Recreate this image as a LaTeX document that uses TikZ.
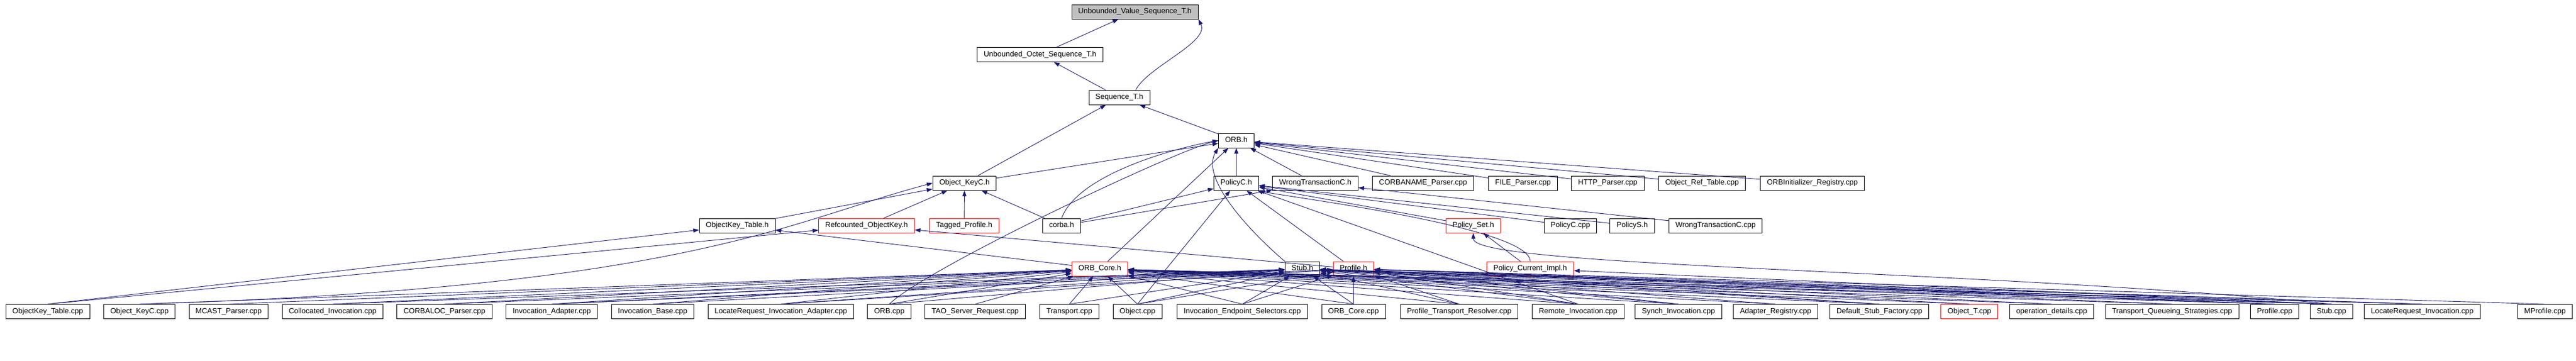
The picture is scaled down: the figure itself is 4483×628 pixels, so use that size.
\documentclass[tikz,border=0pt]{standalone}
\usepackage{fontspec}
\newfontfamily\dfont{Liberation Sans}
\usetikzlibrary{arrows.meta}
\definecolor{edgeblue}{HTML}{191970}
\definecolor{rootgray}{HTML}{BFBFBF}
\begin{document}
\begin{tikzpicture}[x=1pt,y=-1pt,
  box/.style={draw=black, line width=0.9pt, fill=white, minimum height=25pt, inner xsep=11.5pt, inner ysep=0pt,
    font=\dfont\fontsize{13}{15}\selectfont, text height=9.5pt, text depth=2.7pt},
  redbox/.style={box, draw=red},
  rootbox/.style={box, fill=rootgray},
  edge/.style={draw=edgeblue, line width=0.9pt, -{Triangle[length=10pt,width=7pt]}}]
\useasboundingbox (0,0) rectangle (4483,628);
% rows
\def\ra{20.5}\def\rb{95}\def\rc{169.5}\def\rd{244.5}\def\re{318.5}\def\rf{392.5}\def\rg{467.5}\def\rh{542}
\node[rootbox] (val) at (1975,\ra) {Unbounded\_Value\_Sequence\_T.h};
\node[box] (oct) at (1810,\rb) {Unbounded\_Octet\_Sequence\_T.h};
\node[box] (seq) at (1948,\rc) {Sequence\_T.h};
\node[box] (orbh) at (2151.5,\rd) {ORB.h};
% row 4
\node[box] (okc) at (1678.5,\re) {Object\_KeyC.h};
\node[box] (polc) at (2151.5,\re) {PolicyC.h};
\node[box] (wtc) at (2289,\re) {WrongTransactionC.h};
\node[box] (cnp) at (2476.5,\re) {CORBANAME\_Parser.cpp};
\node[box] (filep) at (2650.5,\re) {FILE\_Parser.cpp};
\node[box] (httpp) at (2798,\re) {HTTP\_Parser.cpp};
\node[box] (ort) at (2962,\re) {Object\_Ref\_Table.cpp};
\node[box] (orbi) at (3154,\re) {ORBInitializer\_Registry.cpp};
% row 5
\node[box] (okt) at (1283,\rf) {ObjectKey\_Table.h};
\node[redbox] (rok) at (1508,\rf) {Refcounted\_ObjectKey.h};
\node[redbox] (tagp) at (1678,\rf) {Tagged\_Profile.h};
\node[box] (corba) at (1847.5,\rf) {corba.h};
\node[redbox] (pset) at (2564,\rf) {Policy\_Set.h};
\node[box] (pccpp) at (2733,\rf) {PolicyC.cpp};
\node[box] (pols) at (2840.5,\rf) {PolicyS.h};
\node[box] (wtccpp) at (2985.5,\rf) {WrongTransactionC.cpp};
% row 6
\node[redbox] (orbcore) at (1914,\rg) {ORB\_Core.h};
\node[box] (stubh) at (2266.5,\rg) {Stub.h};
\node[redbox] (profh) at (2355.5,\rg) {Profile.h};
\node[redbox] (pci) at (2663,\rg) {Policy\_Current\_Impl.h};
% row 7
\node[box] (oktcpp) at (83.1,\rh) {ObjectKey\_Table.cpp};
\node[box] (okccpp) at (242.7,\rh) {Object\_KeyC.cpp};
\node[box] (mcast) at (397.9,\rh) {MCAST\_Parser.cpp};
\node[box] (colloc) at (578.8,\rh) {Collocated\_Invocation.cpp};
\node[box] (corbaloc) at (773.5,\rh) {CORBALOC\_Parser.cpp};
\node[box] (invad) at (960.3,\rh) {Invocation\_Adapter.cpp};
\node[box] (invbase) at (1135.8,\rh) {Invocation\_Base.cpp};
\node[box] (lria) at (1358.8,\rh) {LocateRequest\_Invocation\_Adapter.cpp};
\node[box] (orbcpp) at (1547.7,\rh) {ORB.cpp};
\node[box] (tsr) at (1697.1,\rh) {TAO\_Server\_Request.cpp};
\node[box] (transp) at (1861,\rh) {Transport.cpp};
\node[box] (objcpp) at (1979.5,\rh) {Object.cpp};
\node[box] (ies) at (2162,\rh) {Invocation\_Endpoint\_Selectors.cpp};
\node[box] (orbcorecpp) at (2355.5,\rh) {ORB\_Core.cpp};
\node[box] (ptr) at (2539.5,\rh) {Profile\_Transport\_Resolver.cpp};
\node[box] (remote) at (2746.3,\rh) {Remote\_Invocation.cpp};
\node[box] (synch) at (2921,\rh) {Synch\_Invocation.cpp};
\node[box] (adreg) at (3090,\rh) {Adapter\_Registry.cpp};
\node[box] (dsf) at (3270.7,\rh) {Default\_Stub\_Factory.cpp};
\node[redbox] (objt) at (3427.3,\rh) {Object\_T.cpp};
\node[box] (opdet) at (3570.5,\rh) {operation\_details.cpp};
\node[box] (tqs) at (3780,\rh) {Transport\_Queueing\_Strategies.cpp};
\node[box] (profcpp) at (3958.5,\rh) {Profile.cpp};
\node[box] (stubcpp) at (4057.5,\rh) {Stub.cpp};
\node[box] (lri) at (4215.3,\rh) {LocateRequest\_Invocation.cpp};
\node[box] (mprof) at (4429,\rh) {MProfile.cpp};
% ---- edges
\draw[edge] (oct) -- (val);
\draw[edge] (seq.north east) ++(-25,0) coordinate (s1) .. controls +(20,-40) and +(20,40) .. (val.south east);
\draw[edge] (seq) -- (oct);
\draw[edge] (orbh) -- (seq);
\draw[edge] (okc) -- (seq);
\foreach \n in {okc,polc,wtc,cnp,filep,httpp,ort,orbi} \draw[edge] (\n) -- (orbh);
\foreach \n in {okt,rok,tagp,corba} \draw[edge] (\n) -- (okc);
\draw[edge] (corba.north) .. controls +(30,-80) and +(-60,10) .. (orbh.west);
\foreach \n in {corba,pset,pccpp,pols} \draw[edge] (\n) -- (polc);
\draw[edge] (corba) -- (wtc);
\draw[edge] (wtccpp) -- (wtc);
\draw[edge] (orbcore) -- (okt);
\draw[edge] (orbcore) -- (orbh);
\draw[edge] (stubh.north west) .. controls +(-70,-60) and +(-30,50) .. (orbh.south west);
\draw[edge] (profh) -- (rok);
\draw[edge] (profh) -- (polc);
\draw[edge] (pci) -- (pset);
\draw[edge] (pci.north) .. controls +(0,-60) and +(40,10) .. (polc.south east);
% bottom row
\draw[edge] (oktcpp.north) -- (okt);
\draw[edge] (oktcpp.north) -- (rok);
\draw[edge] (okccpp.north) .. controls (1200,500) and (1370,385) .. (okc.west);
\draw[edge] (okccpp.north) -- (orbcore);
\draw[edge] (orbcpp.north) .. controls +(60,-60) and +(-80,20) .. (orbh.west);
\foreach \n in {mcast,colloc,corbaloc,invad,invbase,lria,orbcpp,tsr,transp,objcpp,ies,orbcorecpp,ptr,remote,synch,adreg,dsf,objt,opdet,tqs,profcpp,stubcpp,lri} \draw[edge] (\n.north) -- (orbcore);
\foreach \n in {colloc,corbaloc,invad,invbase,lria,orbcpp,transp,objcpp,ies,orbcorecpp,ptr,remote,synch,adreg,dsf,objt,opdet,tqs,profcpp,stubcpp,lri} \draw[edge] (\n.north) -- (stubh);
\foreach \n in {invad,lria,objcpp,ies,orbcorecpp,ptr,remote,synch,dsf,profcpp,stubcpp,lri,mprof} \draw[edge] (\n.north) -- (profh);
\draw[edge] (objcpp.north) -- (polc);
\draw[edge] (remote.north) -- (polc);
\draw[edge] (stubcpp.north) .. controls +(-600,-60) and +(0,60) .. (pset.south);
\draw[edge] (stubcpp.north) -- (pci);
\end{tikzpicture}
\end{document}
